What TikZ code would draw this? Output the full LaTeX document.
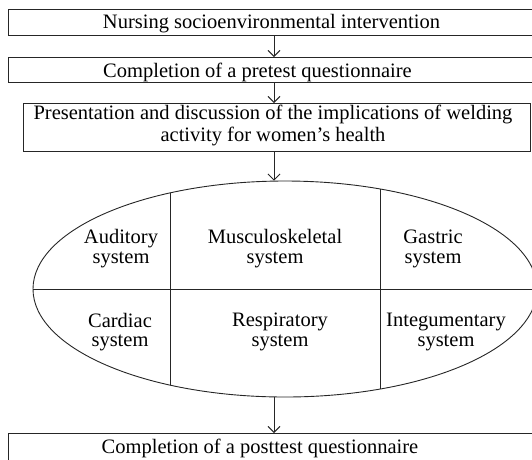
\documentclass[tikz,border=0pt]{standalone}
\usepackage{fontspec}
\setmainfont{Liberation Serif}
\usetikzlibrary{arrows.meta,shapes.geometric}

\tikzset{
  stepbox/.style={draw=black!85, line width=0.9pt, rectangle, inner sep=0pt, anchor=north west},
  flow/.style={draw=black!85, line width=0.9pt, -{Straight Barb[length=6pt,width=12pt]}},
  organ/.style={align=center, inner sep=0pt, font=\fontsize{20.5}{19.5}\selectfont},
}

\begin{document}
\begin{tikzpicture}[x=1pt,y=-1pt,font=\fontsize{20.5}{21.4}\selectfont]
\useasboundingbox (0,0) rectangle (532,459);
\clip (0,0) rectangle (532,459);

\coordinate (axis) at (274,0);

% steps
\node[stepbox, minimum width=560pt, minimum height=26pt] (nurs) at (8,9) {};
\node[anchor=base, inner sep=0pt] (nurstxt) at (271.5,28) {Nursing socioenvironmental intervention};

\node[stepbox, minimum width=560pt, minimum height=25pt] (pre) at (8,57) {};
\node[anchor=base, inner sep=0pt] (pretxt) at (257.5,77.5) {Completion of a pretest questionnaire};

\node[stepbox, minimum width=507pt, minimum height=47.5pt] (pres) at (23,103) {};
\node[align=center, inner sep=0pt] (prestxt) at (273,125.3) {Presentation and discussion of the implications of welding\\activity for women's health};

\node[stepbox, minimum width=560pt, minimum height=40pt] (post) at (8,433) {};
\node[anchor=base, inner sep=0pt] (posttxt) at (260,453) {Completion of a posttest questionnaire};

% body systems
\node[ellipse, draw=black!85, line width=0.9pt, inner sep=0pt,
  minimum width=504pt, minimum height=216pt] (sys) at (285,289) {};
\begin{scope}
\clip (285,289) ellipse [x radius=252pt, y radius=108pt];
\draw[draw=black!85, line width=0.9pt] (170,170) -- (170,410);
\draw[draw=black!85, line width=0.9pt] (380,170) -- (380,410);
\draw[draw=black!85, line width=0.9pt] (0,289) -- (560,289);
\end{scope}

\node[organ] (audi) at (121,248.8) {Auditory\\system};
\node[organ] (musc) at (275,248.8) {Musculoskeletal\\system};
\node[organ] (gast) at (433,249) {Gastric\\system};
\node[organ] (card) at (120,332) {Cardiac\\system};
\node[organ] (resp) at (280,332) {Respiratory\\system};
\node[organ] (inte) at (446,332) {Integumentary\\system};

% arrows
\draw[flow] (nurs.south -| axis) -- (pre.north -| axis);
\draw[flow] (pre.south -| axis) -- (pres.north -| axis);
\draw[flow] (pres.south -| axis) -- (sys.north -| axis);
\draw[flow] (sys.south -| axis) -- (post.north -| axis);

\end{tikzpicture}
\end{document}
